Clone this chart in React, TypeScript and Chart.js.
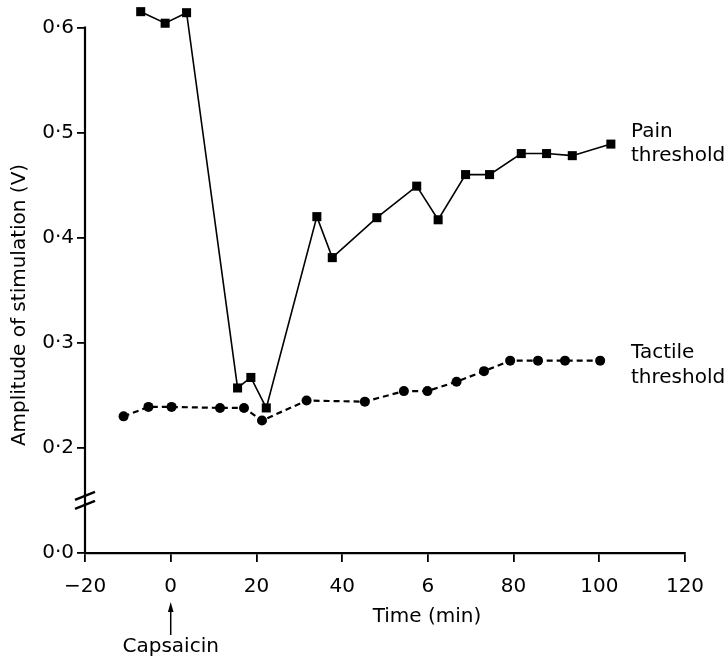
import React, { useEffect, useRef } from "react";
import { Chart, registerables } from "chart.js";

Chart.register(...registerables);

// Pain threshold (filled squares, solid line)
const painTime = [-7, -1.3, 3.7, 15.6, 18.7, 22.3, 34.1, 37.7, 48.1, 57.4, 62.4, 68.8, 74.4, 81.8, 87.7, 93.7, 102.7];
const painValue = [0.615, 0.604, 0.614, 0.257, 0.267, 0.238, 0.42, 0.381, 0.419, 0.449, 0.417, 0.46, 0.46, 0.48, 0.48, 0.478, 0.489];

// Tactile threshold (filled circles, dashed line)
const tactileTime = [-11, -5.2, 0.2, 11.5, 17.1, 21.3, 31.7, 45.3, 54.4, 59.9, 66.7, 73.1, 79.2, 85.7, 92, 100.2];
const tactileValue = [0.23, 0.239, 0.239, 0.238, 0.238, 0.226, 0.245, 0.244, 0.254, 0.254, 0.263, 0.273, 0.283, 0.283, 0.283, 0.283];

// Axis ticks (x label "6" reproduces the original figure's label for 60)
const xTickValues = [-20, 0, 20, 40, 60, 80, 100, 120];
const xTickLabels = ["\u221220", "0", "20", "40", "6", "80", "100", "120"];
// The y axis is broken: the "0·0" label sits one step below 0·2
const yTickValues = [0.1, 0.2, 0.3, 0.4, 0.5, 0.6];
const yTickLabels = ["0\u00b70", "0\u00b72", "0\u00b73", "0\u00b74", "0\u00b75", "0\u00b76"];
const yBreakValue = 0.15;

const seriesLabels = [
  { lines: ["Pain", "threshold"], x: 631, y: 136.5 },
  { lines: ["Tactile", "threshold"], x: 631, y: 358.3 },
];

const FONT = "'DejaVu Sans', sans-serif";

const decorPlugin = {
  id: "decor",
  afterDraw(chart: any) {
    const ctx = chart.ctx as CanvasRenderingContext2D;
    const xs = chart.scales.x;
    const ys = chart.scales.y;
    const area = chart.chartArea;
    ctx.save();
    ctx.strokeStyle = "#000";
    ctx.fillStyle = "#000";
    // y axis line
    const ax = area.left;
    ctx.lineWidth = 2.2;
    ctx.beginPath();
    ctx.moveTo(ax, ys.getPixelForValue(0.6) - 1);
    ctx.lineTo(ax, area.bottom + 1);
    ctx.stroke();
    // axis break marks
    const by = ys.getPixelForValue(yBreakValue);
    ctx.lineWidth = 2.5;
    for (const off of [-4.5, 4.5]) {
      ctx.beginPath();
      ctx.moveTo(ax - 10, by + off + 4);
      ctx.lineTo(ax + 10, by + off - 4);
      ctx.stroke();
    }
    // titles
    ctx.font = `20px ${FONT}`;
    ctx.textAlign = "center";
    ctx.textBaseline = "alphabetic";
    ctx.fillText("Time (min)", 427, 622);
    ctx.save();
    ctx.translate(25, 305);
    ctx.rotate(-Math.PI / 2);
    ctx.fillText("Amplitude of stimulation (V)", 0, 0);
    ctx.restore();
    // capsaicin arrow
    const cx = xs.getPixelForValue(0);
    ctx.lineWidth = 1.5;
    ctx.beginPath();
    ctx.moveTo(cx, 635);
    ctx.lineTo(cx, 608);
    ctx.stroke();
    ctx.beginPath();
    ctx.moveTo(cx, 602);
    ctx.lineTo(cx - 2.8, 612);
    ctx.lineTo(cx + 2.8, 612);
    ctx.closePath();
    ctx.fill();
    ctx.fillText("Capsaicin", cx, 652);
    // series labels
    ctx.textAlign = "left";
    for (const s of seriesLabels) {
      s.lines.forEach((t, i) => ctx.fillText(t, s.x, s.y + i * 24.5));
    }
    ctx.restore();
  },
};

export default function App() {
  const ref = useRef<HTMLCanvasElement>(null);
  useEffect(() => {
    document.body.style.margin = "0";
    const canvas = ref.current!;
    const chart = new Chart(canvas, {
      type: "line",
      data: {
        datasets: [
          {
            label: "Pain threshold",
            data: painTime.map((t, i) => ({ x: t, y: painValue[i] })),
            borderColor: "#000",
            backgroundColor: "#000",
            borderWidth: 1.6,
            pointStyle: "rect",
            pointRadius: 6.4,
            pointBorderWidth: 0,
            pointBackgroundColor: "#000",
            clip: false,
            tension: 0,
          },
          {
            label: "Tactile threshold",
            data: tactileTime.map((t, i) => ({ x: t, y: tactileValue[i] })),
            borderColor: "#000",
            backgroundColor: "#000",
            borderWidth: 2.2,
            borderDash: [6, 4],
            pointStyle: "circle",
            pointRadius: 5,
            pointBorderWidth: 0,
            pointBackgroundColor: "#000",
            clip: false,
            tension: 0,
          },
        ],
      },
      options: {
        animation: false,
        responsive: false,
        events: [],
        layout: { padding: { left: 0, right: 43, top: 4, bottom: 0 } },
        plugins: { legend: { display: false }, tooltip: { enabled: false } },
        scales: {
          x: {
            type: "linear",
            min: -20,
            max: 120,
            afterBuildTicks: (s: any) => {
              s.ticks = xTickValues.map((v) => ({ value: v }));
            },
            afterFit: (s: any) => {
              s.height = 105;
              s.paddingLeft = 0;
              s.paddingRight = 0;
            },
            border: { display: true, color: "#000", width: 2.2 },
            grid: { drawOnChartArea: false, drawTicks: true, tickLength: 9, color: "#000", lineWidth: 1.8 },
            ticks: {
              autoSkip: false,
              maxRotation: 0,
              padding: 13,
              color: "#000",
              font: { family: FONT, size: 20 },
              callback: (_v: any, i: number) => xTickLabels[i],
            },
          },
          y: {
            type: "linear",
            min: 0.1,
            max: 0.62,
            afterBuildTicks: (s: any) => {
              s.ticks = yTickValues.map((v) => ({ value: v }));
            },
            afterFit: (s: any) => {
              s.width = 85;
              s.paddingTop = 0;
              s.paddingBottom = 0;
            },
            border: { display: false },
            grid: { drawOnChartArea: false, drawTicks: true, tickLength: 8, color: "#000", lineWidth: 1.8 },
            ticks: {
              autoSkip: false,
              padding: 3,
              color: "#000",
              font: { family: FONT, size: 20 },
              callback: (_v: any, i: number) => yTickLabels[i],
            },
          },
        },
      },
      plugins: [decorPlugin],
    });
    return () => chart.destroy();
  }, []);
  return (
    <div style={{ width: 728, height: 658, background: "#fff" }}>
      <canvas ref={ref} width={728} height={658} style={{ display: "block", width: 728, height: 658 }} />
    </div>
  );
}
